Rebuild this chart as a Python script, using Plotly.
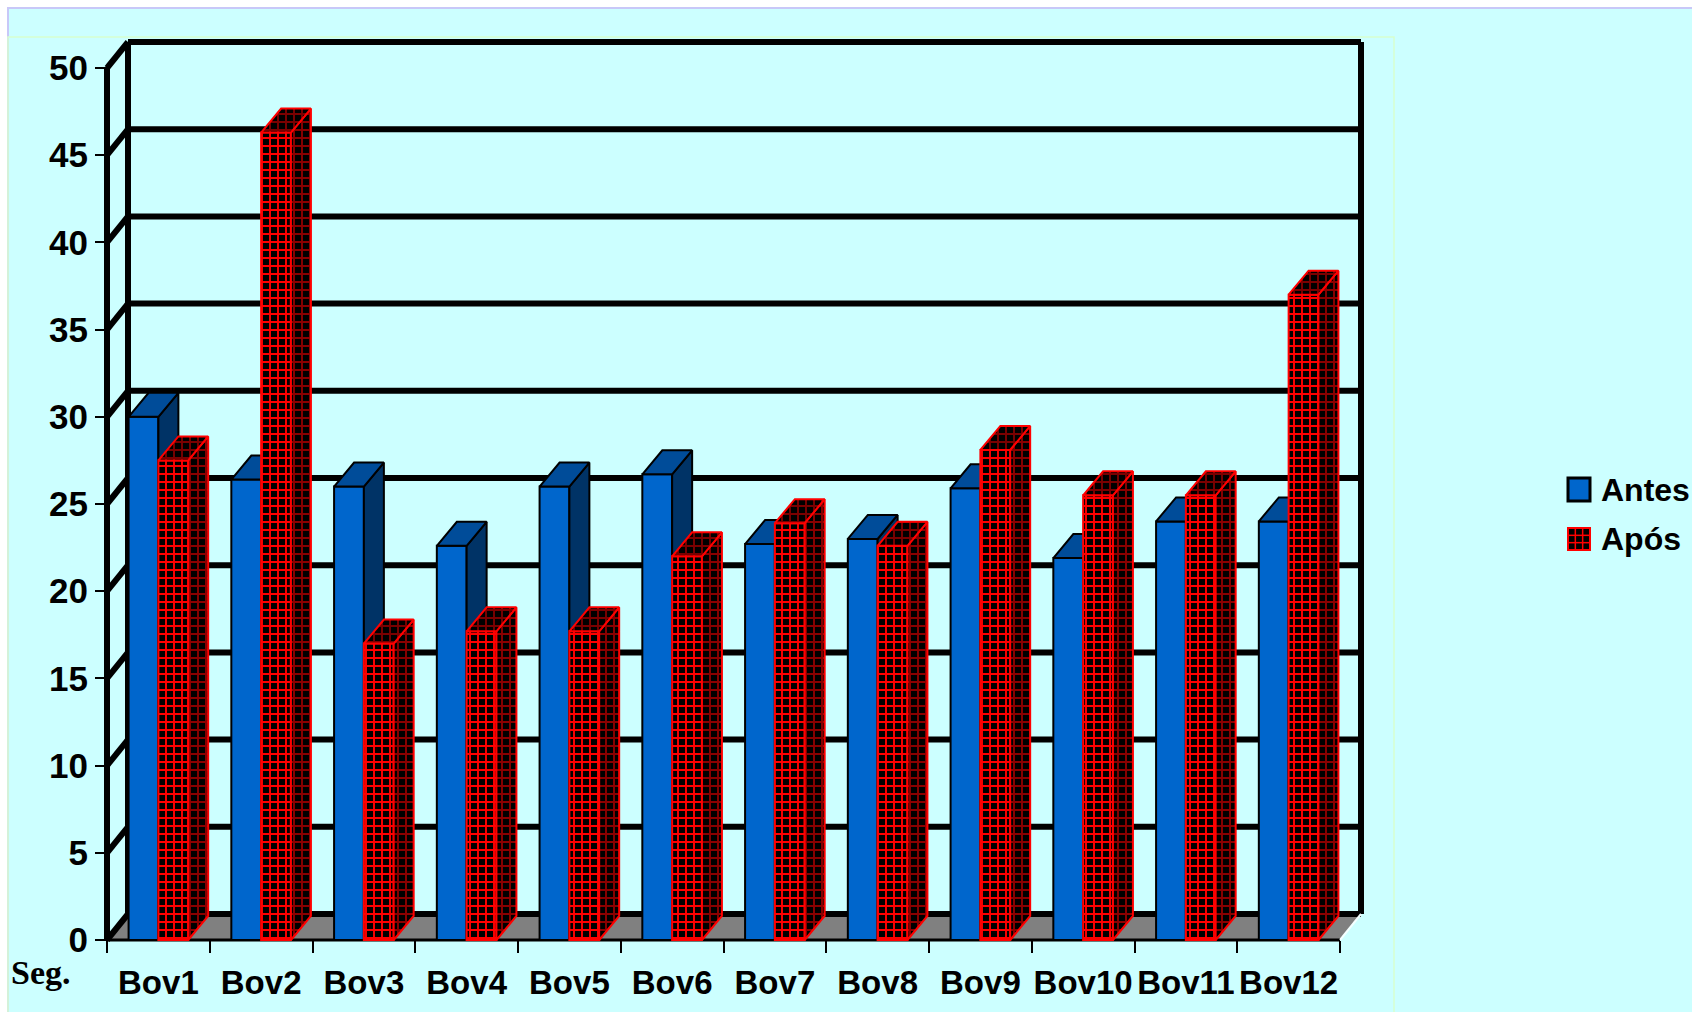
import plotly.graph_objects as go

# ---------------- data ----------------
categories = ["Bov1", "Bov2", "Bov3", "Bov4", "Bov5", "Bov6",
              "Bov7", "Bov8", "Bov9", "Bov10", "Bov11", "Bov12"]
antes = [30.0, 26.4, 26.0, 22.6, 26.0, 26.7, 22.7, 23.0, 25.9, 21.9, 24.0, 24.0]
apos = [27.5, 46.3, 17.0, 17.7, 17.7, 22.0, 23.9, 22.6, 28.1, 25.5, 25.5, 37.0]
y_ticks = [0, 5, 10, 15, 20, 25, 30, 35, 40, 45, 50]
series_names = ["Antes", "Após"]
y_unit_label = "Seg."

# ---------------- layout geometry (pixels) ----------------
W, H = 1692, 1012
L, R, T, B = 90, 312, 30, 62
PLOT_W, PLOT_H = W - L - R, H - T - B
X_FRONT_PX, Y_ZERO_PX = 107, 940          # front y-axis / front x-axis
PX_PER_CAT = 1233 / len(categories)
PX_PER_UNIT = (940 - 68) / 50.0
n = len(categories)
x_range = [-0.5 - (X_FRONT_PX - L) / PX_PER_CAT, -0.5 + (W - R - X_FRONT_PX) / PX_PER_CAT]
y_range = [-((H - B) - Y_ZERO_PX) / PX_PER_UNIT, (Y_ZERO_PX - T) / PX_PER_UNIT]

# 3-D depth (in data units)
DXW, DYW = 21 / PX_PER_CAT, 26 / PX_PER_UNIT      # walls
DXB, DYB = 20 / PX_PER_CAT, 24 / PX_PER_UNIT      # bars
BAR_W = 0.29
OFFSETS = [-0.29, 0.0]
YMAX = y_ticks[-1]


def pxx(p):
    return (p - L) / PLOT_W


def pxy(p):
    return ((H - B) - p) / PLOT_H


FONT = "Liberation Sans, Arial, sans-serif"
CYAN = "#CCFFFF"

fig = go.Figure()


def faces(values, offset):
    sx, sy, tx, ty = [], [], [], []
    for i, v in enumerate(values):
        x0 = i + offset
        x1 = x0 + BAR_W
        sx += [x1, x1 + DXB, x1 + DXB, x1, x1, None]
        sy += [0, DYB, v + DYB, v, 0, None]
        tx += [x0, x0 + DXB, x1 + DXB, x1, x0, None]
        ty += [v, v + DYB, v + DYB, v, v, None]
    return sx, sy, tx, ty


xs = list(range(n))
PAT = dict(shape="+", bgcolor="black", size=8, solidity=0.42, fgopacity=1)

# ---- Antes (base axes) ----
fig.add_trace(go.Bar(
    x=xs, y=antes, width=BAR_W, offset=OFFSETS[0], name=series_names[0],
    hovertext=categories, marker=dict(color="#0066CC", line=dict(color="black", width=2)),
    xaxis="x", yaxis="y", showlegend=False))
sx, sy, tx, ty = faces(antes, OFFSETS[0])
fig.add_trace(go.Scatter(x=sx, y=sy, mode="lines", fill="toself", fillcolor="#003366",
                         line=dict(color="black", width=2), hoverinfo="skip",
                         showlegend=False, xaxis="x", yaxis="y"))
fig.add_trace(go.Scatter(x=tx, y=ty, mode="lines", fill="toself", fillcolor="#004C99",
                         line=dict(color="black", width=2), hoverinfo="skip",
                         showlegend=False, xaxis="x", yaxis="y"))

# ---- Após (overlay axes, drawn above) ----
fig.add_trace(go.Bar(
    x=xs, y=apos, width=BAR_W, offset=OFFSETS[1], name=series_names[1],
    hovertext=categories,
    marker=dict(color="black", line=dict(color="#FF0000", width=2),
                pattern=dict(PAT, fgcolor="#FF0000")),
    xaxis="x2", yaxis="y2", showlegend=False))
sx, sy, tx, ty = faces(apos, OFFSETS[1])
fig.add_trace(go.Scatter(x=sx, y=sy, mode="lines", fill="toself", fillcolor="black",
                         fillpattern=dict(PAT, fgcolor="#8B0000"),
                         line=dict(color="#FF0000", width=2), hoverinfo="skip",
                         showlegend=False, xaxis="x2", yaxis="y2"))
fig.add_trace(go.Scatter(x=tx, y=ty, mode="lines", fill="toself", fillcolor="black",
                         fillpattern=dict(PAT, fgcolor="#7A0000"),
                         line=dict(color="#FF0000", width=2), hoverinfo="skip",
                         showlegend=False, xaxis="x2", yaxis="y2"))

shapes = []
# page background and borders
shapes.append(dict(type="rect", xref="paper", yref="paper", x0=pxx(8), x1=pxx(W + 20),
                   y0=pxy(8), y1=pxy(H + 20), fillcolor=CYAN,
                   line=dict(color="#C8C8F8", width=2), layer="below"))
shapes.append(dict(type="rect", xref="paper", yref="paper", x0=pxx(8), x1=pxx(1394),
                   y0=pxy(37), y1=pxy(H + 20), fillcolor="rgba(0,0,0,0)",
                   line=dict(color="#D6FFD0", width=1.5), layer="below"))

# floor
xl, xr = -0.5, n - 0.5
shapes.append(dict(type="path", xref="x", yref="y", layer="below",
                   path=f"M{xl},0 L{xr},0 L{xr + DXW},{DYW} L{xl + DXW},{DYW} Z",
                   fillcolor="#808080", line=dict(width=0)))
# back-wall gridlines
for t in y_ticks:
    shapes.append(dict(type="line", xref="x", yref="y", layer="below",
                       x0=xl + DXW, x1=xr + DXW, y0=t + DYW, y1=t + DYW,
                       line=dict(color="black", width=6)))
    # left wall diagonals
    shapes.append(dict(type="line", xref="x", yref="y", layer="below",
                       x0=xl, x1=xl + DXW, y0=t, y1=t + DYW,
                       line=dict(color="black", width=6)))
# wall verticals
for xv, y0v in [(xl, 0), (xl + DXW, DYW), (xr + DXW, DYW)]:
    shapes.append(dict(type="line", xref="x", yref="y", layer="below",
                       x0=xv, x1=xv, y0=y0v, y1=YMAX + y0v,
                       line=dict(color="black", width=6)))
# front floor edge
shapes.append(dict(type="line", xref="x", yref="y", layer="below",
                   x0=xl, x1=xr, y0=0, y1=0, line=dict(color="black", width=3)))
shapes.append(dict(type="line", xref="x", yref="y", layer="below",
                   x0=xr, x1=xr + DXW, y0=0, y1=DYW, line=dict(color="#F4FFFF", width=2)))

# manual legend glyphs
shapes.append(dict(type="rect", xref="paper", yref="paper", x0=pxx(1568), x1=pxx(1590),
                   y0=pxy(478), y1=pxy(501), fillcolor="#0066CC",
                   line=dict(color="black", width=3)))
shapes.append(dict(type="rect", xref="paper", yref="paper", x0=pxx(1568), x1=pxx(1590),
                   y0=pxy(528), y1=pxy(550), fillcolor="black",
                   line=dict(color="#FF0000", width=2)))
for k in (1, 2):
    xx = 1568 + k * 22 / 3
    yy = 528 + k * 22 / 3
    shapes.append(dict(type="line", xref="paper", yref="paper", x0=pxx(xx), x1=pxx(xx),
                       y0=pxy(528), y1=pxy(550), line=dict(color="#FF0000", width=1.5)))
    shapes.append(dict(type="line", xref="paper", yref="paper", x0=pxx(1568), x1=pxx(1590),
                       y0=pxy(yy), y1=pxy(yy), line=dict(color="#FF0000", width=1.5)))

annotations = [
    dict(text=series_names[0], x=pxx(1599), y=pxy(490), xref="paper", yref="paper",
         xanchor="left", yanchor="middle", showarrow=False,
         font=dict(family=FONT, size=32, color="black", weight="bold")),
    dict(text=series_names[1], x=pxx(1599), y=pxy(539), xref="paper", yref="paper",
         xanchor="left", yanchor="middle", showarrow=False,
         font=dict(family=FONT, size=32, color="black", weight="bold")),
    dict(text=y_unit_label, x=pxx(9), y=pxy(972), xref="paper", yref="paper",
         xanchor="left", yanchor="middle", showarrow=False,
         font=dict(family="Liberation Serif, Times New Roman, serif", size=34,
                   color="black", weight="bold")),
]

fig.update_layout(
    width=W, height=H,
    margin=dict(l=L, r=R, t=T, b=B, pad=0),
    paper_bgcolor="white", plot_bgcolor="rgba(0,0,0,0)",
    barmode="overlay", showlegend=False,
    shapes=shapes, annotations=annotations,
    xaxis=dict(range=x_range, domain=[0, 1], anchor="free", position=pxy(Y_ZERO_PX),
               tickmode="array", tickvals=xs, ticktext=categories, ticks="",
               ticklabelstandoff=20,
               showgrid=False, zeroline=False, showline=False,
               tickfont=dict(family=FONT, size=33, color="black", weight="bold"),
               minor=dict(tick0=-0.5, dtick=1, ticks="outside", ticklen=12,
                          tickwidth=2, tickcolor="black", showgrid=False),
               fixedrange=True),
    yaxis=dict(range=y_range, domain=[0, 1], anchor="free", position=pxx(X_FRONT_PX),
               tickmode="array", tickvals=y_ticks, ticks="outside", ticklen=12,
               tickwidth=2, tickcolor="black",
               showgrid=False, zeroline=False, showline=False,
               tickfont=dict(family=FONT, size=35, color="black", weight="bold"),
               fixedrange=True),
    xaxis2=dict(range=x_range, overlaying="x", visible=False, fixedrange=True),
    yaxis2=dict(range=y_range, overlaying="y", visible=False, fixedrange=True),
)

fig.write_html("out.html")
